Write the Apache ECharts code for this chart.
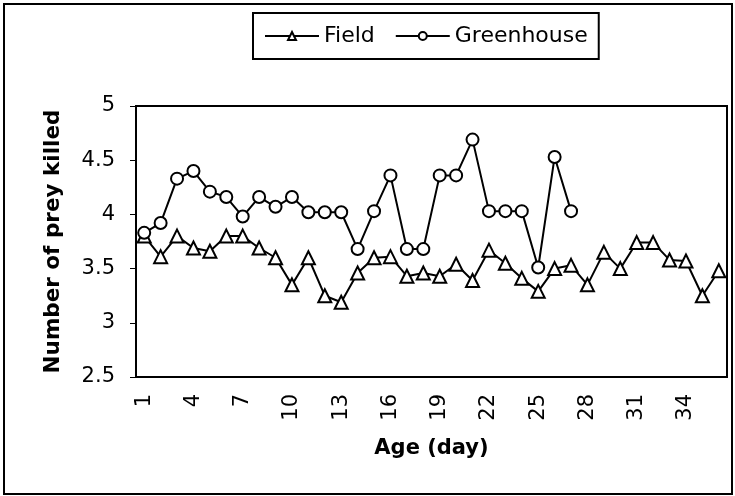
<!DOCTYPE html>
<html>
<head>
<meta charset="utf-8">
<script src="https://cdn.jsdelivr.net/npm/echarts@6/dist/echarts.min.js"></script>
<style>
html,body{margin:0;padding:0;background:#fff;}
#chart{width:735px;height:496px;}
</style>
</head>
<body>
<div id="chart"></div>
<script>
// days 1..36
var days = [];
for (var d = 1; d <= 36; d++) days.push(String(d));

var field = [3.80, 3.61, 3.80, 3.69, 3.66, 3.80, 3.80, 3.69, 3.60, 3.35,
             3.60, 3.25, 3.19, 3.46, 3.60, 3.61, 3.43, 3.46, 3.43, 3.54,
             3.39, 3.67, 3.55, 3.41, 3.29, 3.50, 3.53, 3.35, 3.65, 3.50,
             3.74, 3.74, 3.58, 3.57, 3.25, 3.48];

var greenhouse = [3.83, 3.92, 4.33, 4.40, 4.21, 4.16, 3.98, 4.16, 4.07, 4.16,
                  4.02, 4.02, 4.02, 3.68, 4.03, 4.36, 3.68, 3.68, 4.36, 4.36,
                  4.69, 4.03, 4.03, 4.03, 3.51, 4.53, 4.03];

var chart = echarts.init(document.getElementById('chart'));
var font = 'DejaVu Sans, sans-serif';

chart.setOption({
	animation: false,
	backgroundColor: '#fff',
	textStyle: {fontFamily: font, color: '#000'},
	graphic: [{
		type: 'rect',
		shape: {x: 4, y: 4, width: 728, height: 490},
		style: {fill: 'none', stroke: '#000', lineWidth: 2}
	}],
	legend: {
		top: 13,
		left: 253,
		data: ['Field', 'Greenhouse'],
		borderColor: '#000',
		borderWidth: 2,
		padding: [12, 11, 12, 11],
		itemWidth: 54,
		itemHeight: 10,
		itemGap: 20,
		textStyle: {fontSize: 22, color: '#000', fontFamily: font}
	},
	grid: {
		left: 136, right: 8, top: 106, bottom: 119,
		show: true, borderColor: '#000', borderWidth: 2,
		containLabel: false
	},
	xAxis: {
		type: 'category',
		data: days,
		boundaryGap: true,
		name: 'Age (day)',
		nameLocation: 'middle',
		nameGap: 61,
		nameTextStyle: {fontSize: 21, fontWeight: 'bold', color: '#000', fontFamily: font},
		axisLine: {lineStyle: {color: '#000', width: 2}},
		axisTick: {interval: 0, length: 5, lineStyle: {color: '#000'}},
		axisLabel: {interval: 2, rotate: 90, margin: 17, fontSize: 21, color: '#000', fontFamily: font},
		splitLine: {show: false}
	},
	yAxis: {
		type: 'value',
		min: 2.5, max: 5, interval: 0.5,
		name: 'Number of prey killed',
		nameLocation: 'middle',
		nameGap: 72,
		nameTextStyle: {fontSize: 21.5, fontWeight: 'bold', color: '#000', fontFamily: font},
		axisLine: {show: true, lineStyle: {color: '#000', width: 2}},
		axisTick: {show: true, length: 6, lineStyle: {color: '#000'}},
		axisLabel: {margin: 21, fontSize: 21, color: '#000', fontFamily: font},
		splitLine: {show: false}
	},
	series: [{
		name: 'Field',
		type: 'line',
		data: field,
		symbol: 'triangle',
		symbolSize: 13,
		showAllSymbol: true,
		lineStyle: {color: '#000', width: 2},
		itemStyle: {color: '#fff', borderColor: '#000', borderWidth: 2}
	}, {
		name: 'Greenhouse',
		type: 'line',
		data: greenhouse,
		symbol: 'circle',
		symbolSize: 12,
		showAllSymbol: true,
		lineStyle: {color: '#000', width: 2},
		itemStyle: {color: '#fff', borderColor: '#000', borderWidth: 2}
	}]
});
</script>
</body>
</html>
